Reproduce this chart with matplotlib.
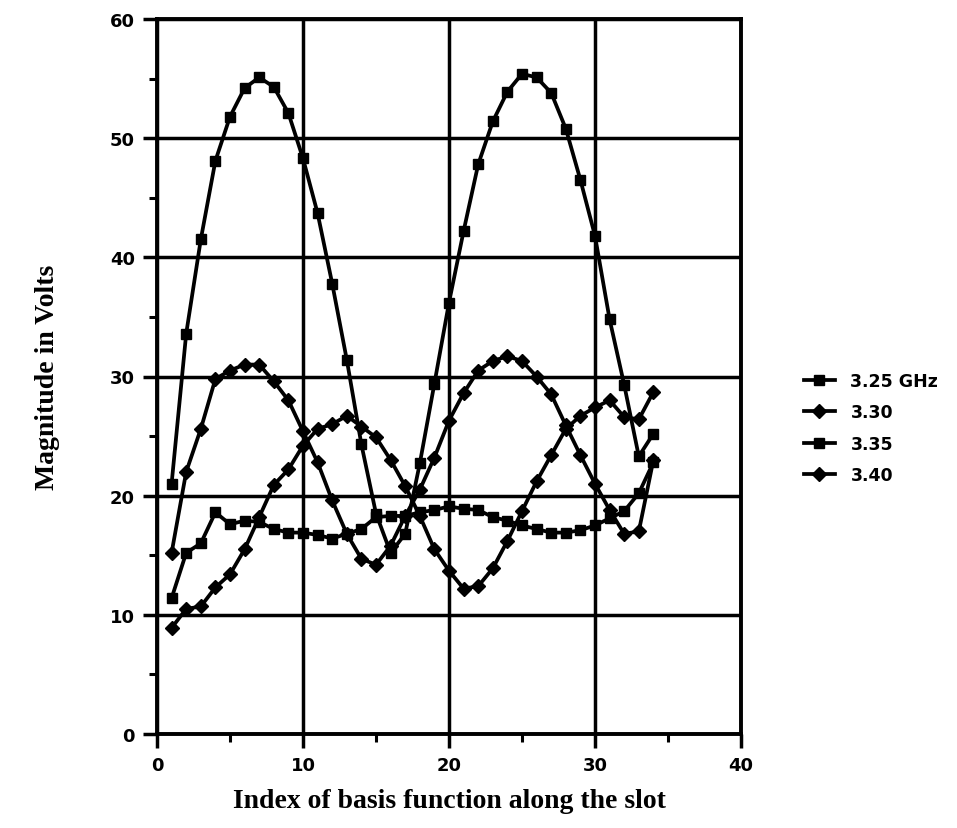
import matplotlib
matplotlib.use("Agg")
import matplotlib.pyplot as plt
from matplotlib.ticker import MultipleLocator

# ---------------- data ----------------
index = list(range(1, 35))

mag_325 = [21.0, 33.6, 41.5, 48.1, 51.8, 54.2, 55.1, 54.3, 52.1, 48.3,
           43.7, 37.8, 31.4, 24.3, 18.5, 15.2, 16.8, 22.7, 29.4, 36.2,
           42.2, 47.8, 51.4, 53.9, 55.4, 55.1, 53.8, 50.8, 46.5, 41.8,
           34.8, 29.3, 23.3, 25.2]
mag_330 = [15.2, 22.0, 25.6, 29.8, 30.5, 31.0, 31.0, 29.6, 28.0, 25.4,
           22.8, 19.6, 16.8, 14.7, 14.2, 15.8, 18.3, 20.5, 23.2, 26.3,
           28.6, 30.5, 31.3, 31.7, 31.3, 30.0, 28.5, 25.9, 23.4, 21.0,
           18.8, 16.8, 17.0, 23.0]
mag_335 = [11.4, 15.2, 16.0, 18.6, 17.6, 17.9, 17.8, 17.2, 16.9, 16.9,
           16.7, 16.4, 16.8, 17.2, 18.2, 18.3, 18.3, 18.6, 18.8, 19.1,
           18.9, 18.8, 18.2, 17.9, 17.5, 17.2, 16.9, 16.9, 17.1, 17.5,
           18.1, 18.7, 20.2, 22.8]
mag_340 = [8.9, 10.5, 10.7, 12.3, 13.4, 15.5, 18.2, 20.9, 22.2, 24.2,
           25.6, 26.0, 26.7, 25.8, 24.9, 23.0, 20.8, 18.3, 15.5, 13.7,
           12.2, 12.4, 13.9, 16.2, 18.7, 21.2, 23.4, 25.6, 26.7, 27.4,
           28.0, 26.6, 26.4, 28.7]

labels = ["3.25 GHz", "3.30", "3.35", "3.40"]
markers = ["s", "D", "s", "D"]
series = [mag_325, mag_330, mag_335, mag_340]

x_ticks = [0, 10, 20, 30, 40]
y_ticks = [0, 10, 20, 30, 40, 50, 60]

SANS = ["DejaVu Sans", "Liberation Sans"]
SERIF = ["Liberation Serif", "DejaVu Serif"]

# ---------------- figure ----------------
fig = plt.figure(figsize=(9.57, 8.29), dpi=100)
ax = fig.add_axes([157/957, 1-735/829, (741-157)/957, (735-20)/829])

for vals, lab, mk in zip(series, labels, markers):
    ms = 7.5 if mk == "s" else 7
    ax.plot(index, vals, color="black", lw=2.7, marker=mk, ms=ms,
            mfc="black", mec="black", label=lab)

ax.set_xlim(0, 40)
ax.set_ylim(0, 60)
ax.set_xticks(x_ticks)
ax.set_yticks(y_ticks)
ax.xaxis.set_minor_locator(MultipleLocator(5))
ax.yaxis.set_minor_locator(MultipleLocator(5))
ax.grid(True, which="major", color="black", lw=2.5)
ax.set_axisbelow(True)
for sp in ax.spines.values():
    sp.set_linewidth(2.8)

ax.tick_params(axis="both", which="major", direction="out", length=10,
               width=2.5, color="black", labelsize=13, pad=6)
ax.tick_params(axis="both", which="minor", direction="out", length=6,
               width=2.2, color="black")
for lbl in ax.get_xticklabels() + ax.get_yticklabels():
    lbl.set_fontweight("bold")
    lbl.set_family(SANS)

ax.set_xlabel("Index of basis function along the slot",
              family=SERIF, fontweight="bold", fontsize=20, labelpad=10)
ax.set_ylabel("Magnitude in Volts",
              family=SERIF, fontweight="bold", fontsize=20, labelpad=36)

leg = fig.legend(loc="center left", bbox_to_anchor=(788/957, 1-429/829),
                 frameon=False, handlelength=1.8, handletextpad=0.9,
                 labelspacing=0.78,
                 prop={"family": SANS, "weight": "bold", "size": 12.5})

fig.savefig("out.png", dpi=100)
